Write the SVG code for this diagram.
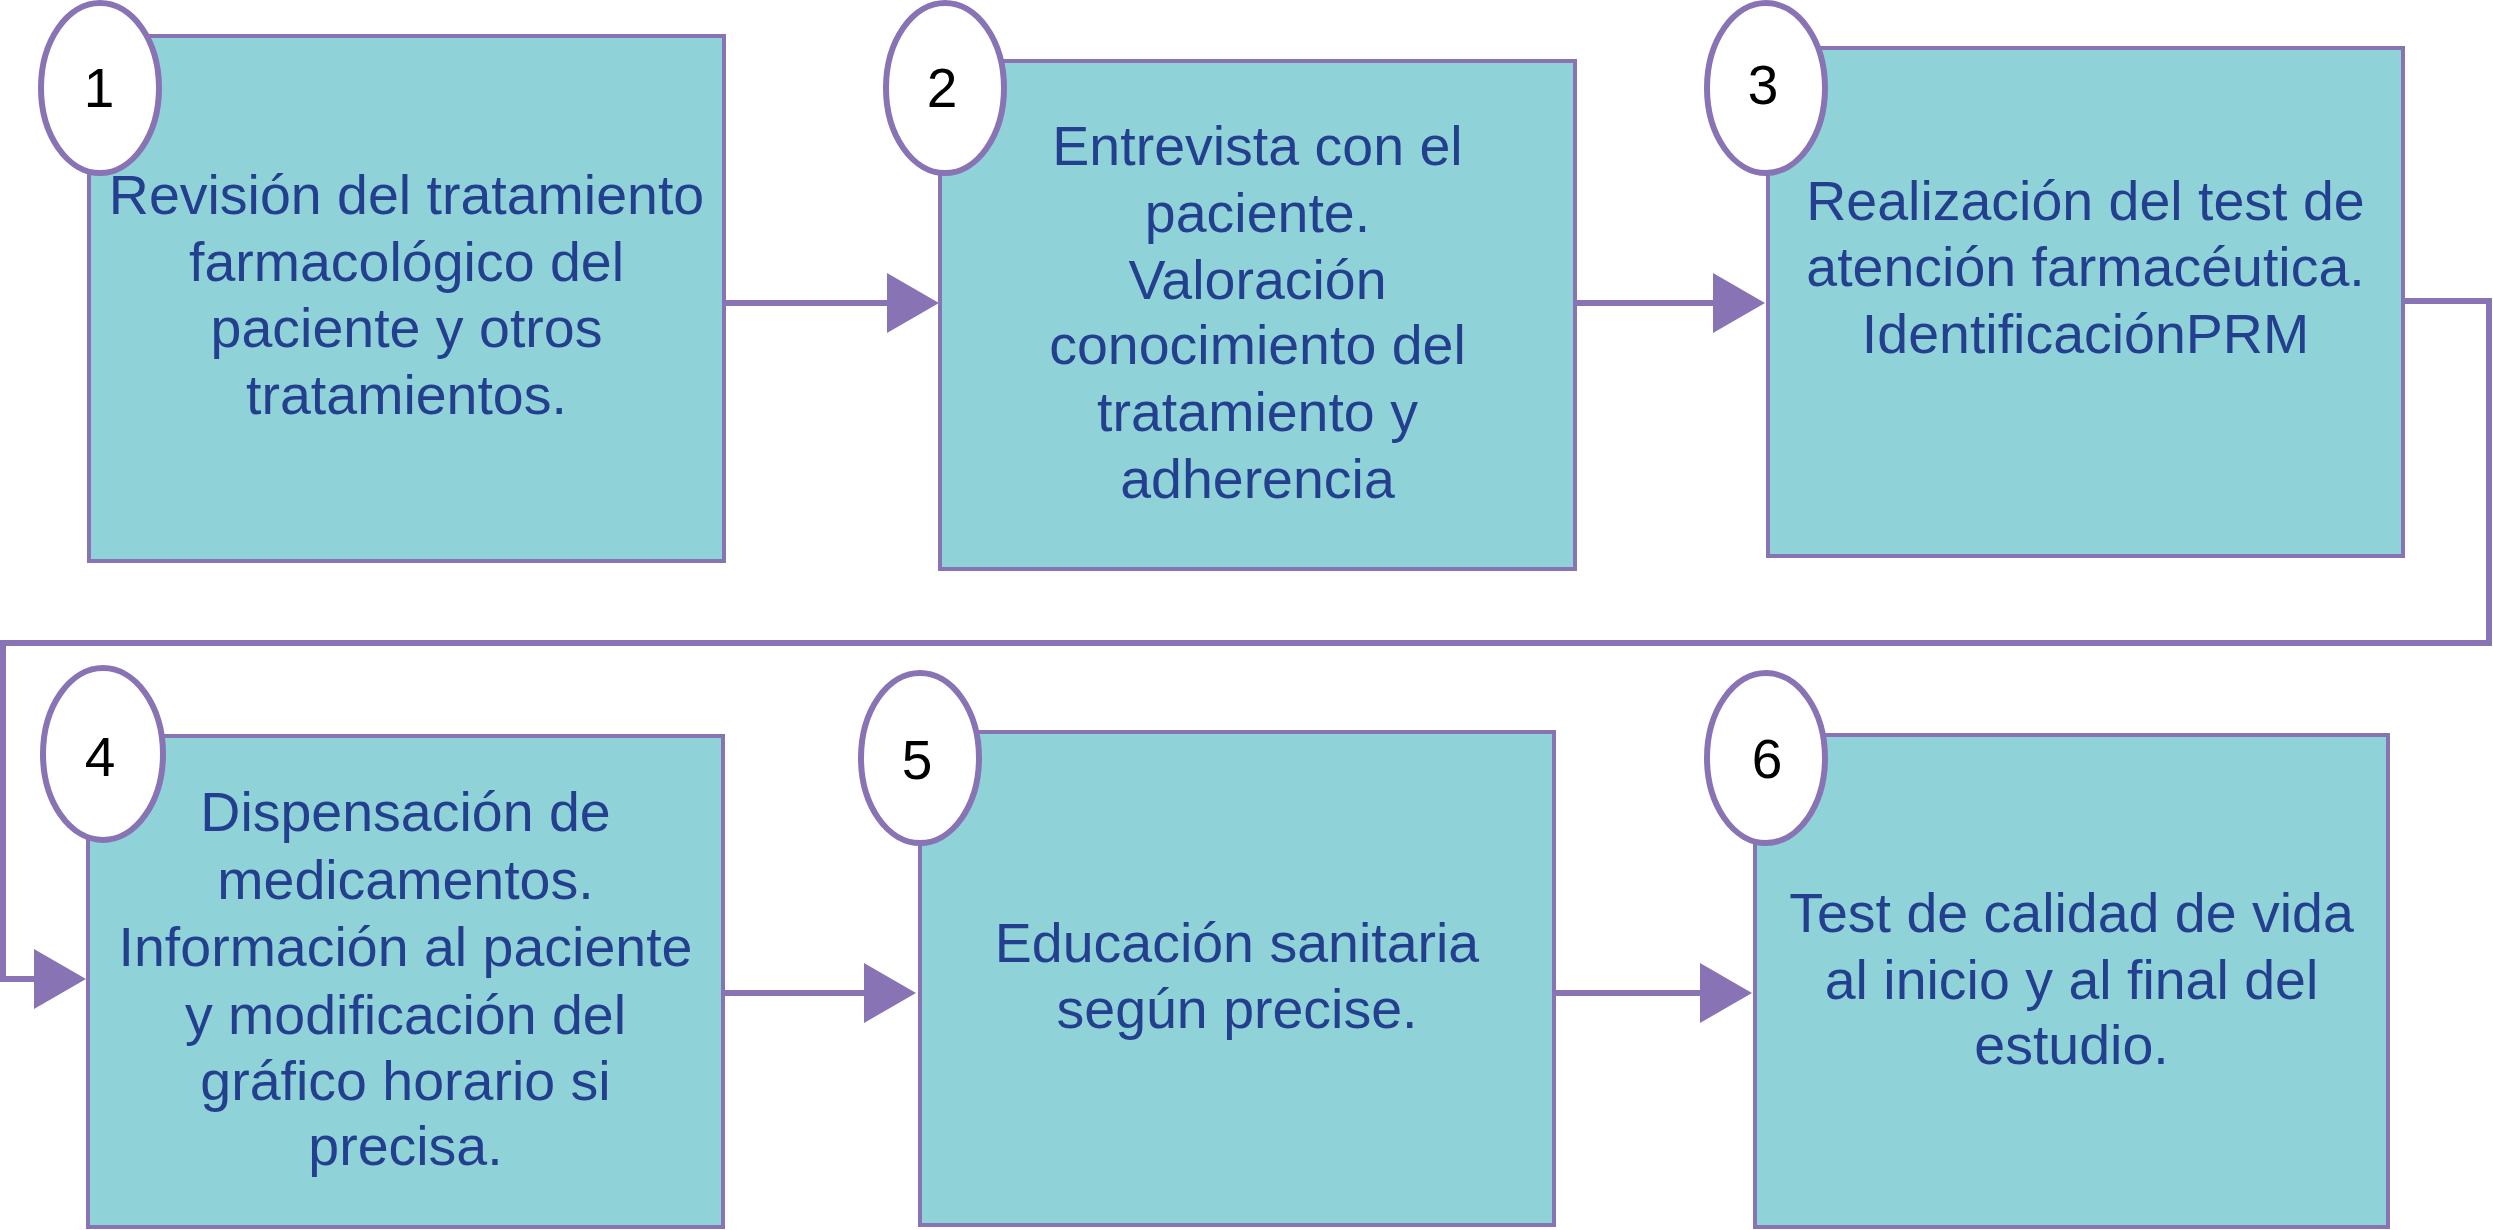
<svg xmlns="http://www.w3.org/2000/svg" width="2493" height="1230" viewBox="0 0 2493 1230">
<defs>
<style>
.box{fill:#8fd3d9;stroke:#8874b4;stroke-width:4}
.num{fill:#ffffff;stroke:#8874b4;stroke-width:6}
.ntx{font-family:"Liberation Sans",Arial,sans-serif;font-size:55px;fill:#000000;text-anchor:middle}
.tx{font-family:"Liberation Sans",Arial,sans-serif;font-size:55.5px;fill:#233f8e;text-anchor:middle}
.con{fill:none;stroke:#8874b4;stroke-width:6}
</style>
<marker id="arr" markerUnits="userSpaceOnUse" markerWidth="52" markerHeight="60" refX="0" refY="30" orient="auto" viewBox="0 0 52 60">
<path d="M0,0 L52,30 L0,60 Z" fill="#8874b4"/>
</marker>
</defs>
<rect width="2493" height="1230" fill="#ffffff"/>
<g id="connectors">
<path class="con" d="M724,303 H887" marker-end="url(#arr)"/>
<path class="con" d="M1575,303 H1713" marker-end="url(#arr)"/>
<path class="con" d="M2403,301 H2489 V643 H3 V979 H34" marker-end="url(#arr)"/>
<path class="con" d="M723,993 H864" marker-end="url(#arr)"/>
<path class="con" d="M1554,993 H1700" marker-end="url(#arr)"/>
</g>
<g id="node1">
<rect class="box" x="89" y="36" width="635" height="525"/>
<ellipse class="num" cx="100" cy="88" rx="59" ry="85"/>
<text class="ntx" x="99" y="107">1</text>
<text class="tx" x="406.5" y="214">Revisión del tratamiento</text>
<text class="tx" x="406.5" y="280.5">farmacológico del</text>
<text class="tx" x="406.5" y="347">paciente y otros</text>
<text class="tx" x="406.5" y="413.5">tratamientos.</text>
</g>
<g id="node2">
<rect class="box" x="940" y="61" width="635" height="508"/>
<ellipse class="num" cx="945" cy="88" rx="59" ry="85"/>
<text class="ntx" x="942" y="107">2</text>
<text class="tx" x="1257.5" y="165">Entrevista con el</text>
<text class="tx" x="1257.5" y="232">paciente.</text>
<text class="tx" x="1257.5" y="298.5">Valoración</text>
<text class="tx" x="1257.5" y="364">conocimiento del</text>
<text class="tx" x="1257.5" y="430.5">tratamiento y</text>
<text class="tx" x="1257.5" y="497.5">adherencia</text>
</g>
<g id="node3">
<rect class="box" x="1768" y="48" width="635" height="508"/>
<ellipse class="num" cx="1766" cy="88" rx="59" ry="85"/>
<text class="ntx" x="1763" y="104">3</text>
<text class="tx" x="2085.5" y="220">Realización del test de</text>
<text class="tx" x="2085.5" y="286">atención farmacéutica.</text>
<text class="tx" x="2085.5" y="352.5">IdentificaciónPRM</text>
</g>
<g id="node4">
<rect class="box" x="88" y="736" width="635" height="491"/>
<ellipse class="num" cx="103" cy="754" rx="60" ry="86"/>
<text class="ntx" x="100" y="776">4</text>
<text class="tx" x="405.5" y="831">Dispensación de</text>
<text class="tx" x="405.5" y="899">medicamentos.</text>
<text class="tx" x="405.5" y="965.5">Información al paciente</text>
<text class="tx" x="405.5" y="1034">y modificación del</text>
<text class="tx" x="405.5" y="1100">gráfico horario si</text>
<text class="tx" x="405.5" y="1164.5">precisa.</text>
</g>
<g id="node5">
<rect class="box" x="920" y="732" width="634" height="493"/>
<ellipse class="num" cx="920" cy="758" rx="59" ry="85"/>
<text class="ntx" x="917" y="779">5</text>
<text class="tx" x="1237" y="961.5">Educación sanitaria</text>
<text class="tx" x="1237" y="1028">según precise.</text>
</g>
<g id="node6">
<rect class="box" x="1755" y="735" width="633" height="492"/>
<ellipse class="num" cx="1766" cy="758" rx="59" ry="85"/>
<text class="ntx" x="1767" y="778">6</text>
<text class="tx" x="2071.5" y="932">Test de calidad de vida</text>
<text class="tx" x="2071.5" y="999">al inicio y al final del</text>
<text class="tx" x="2071.5" y="1064">estudio.</text>
</g>
</svg>
